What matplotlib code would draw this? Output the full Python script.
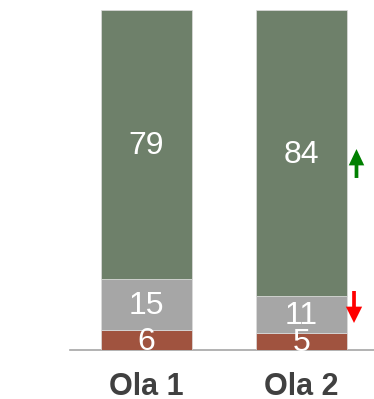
import matplotlib
matplotlib.use("Agg")
import matplotlib.pyplot as plt
import numpy as np

plt.rcParams['font.family'] = ['Liberation Sans', 'DejaVu Sans']

waves = ["Ola 1", "Ola 2"]
red_vals = [6, 5]
gray_vals = [15, 11]
green_vals = [79, 84]

c_red = "#A0533F"
c_gray = "#A6A6A6"
c_green = "#6E806A"

fig = plt.figure(figsize=(3.74, 3.99), dpi=100)
ax = fig.add_axes([70 / 374, 49 / 399, 304 / 374, 340 / 399])

x = np.arange(len(waves))
w = 0.587
red = np.array(red_vals)
gray = np.array(gray_vals)
green = np.array(green_vals)

ax.bar(x, red, w, color=c_red, edgecolor="#dddddd", linewidth=0.5)
ax.bar(x, gray, w, bottom=red, color=c_gray, edgecolor="#dddddd", linewidth=0.5)
ax.bar(x, green, w, bottom=red + gray, color=c_green, edgecolor="#dddddd", linewidth=0.5)

for i in range(len(waves)):
    ax.text(x[i], red[i] / 2 - 0.5, str(red[i]), ha="center", va="center",
            color="white", fontsize=23)
    ax.text(x[i], red[i] + gray[i] / 2 - 0.5, str(gray[i]), ha="center", va="center",
            color="white", fontsize=23)
    ax.text(x[i], red[i] + gray[i] + green[i] / 2 - 0.5, str(green[i]), ha="center",
            va="center", color="white", fontsize=23)

# change arrows next to Ola 2 (up for green, down for gray)
ax.arrow(1.355, 50.6, 0, 8.5, width=0.024, head_width=0.1, head_length=4.8,
         length_includes_head=True, color="#008000", linewidth=0)
ax.arrow(1.339, 17.35, 0, -9.4, width=0.024, head_width=0.105, head_length=4.8,
         length_includes_head=True, color="#FF0000", linewidth=0)

ax.set_xlim(-0.494, 1.468)
ax.set_ylim(0, 100)
ax.set_xticks(x)
ax.set_xticklabels(waves, fontsize=22, fontweight="bold", color="#404040")
ax.tick_params(axis="x", length=0, pad=16)
ax.set_yticks([])
for s in ["top", "right", "left"]:
    ax.spines[s].set_visible(False)
ax.spines["bottom"].set_color("#A6A6A6")
ax.spines["bottom"].set_linewidth(1.2)
ax.spines["bottom"].set_zorder(0)

fig.savefig("out.png", dpi=100)
